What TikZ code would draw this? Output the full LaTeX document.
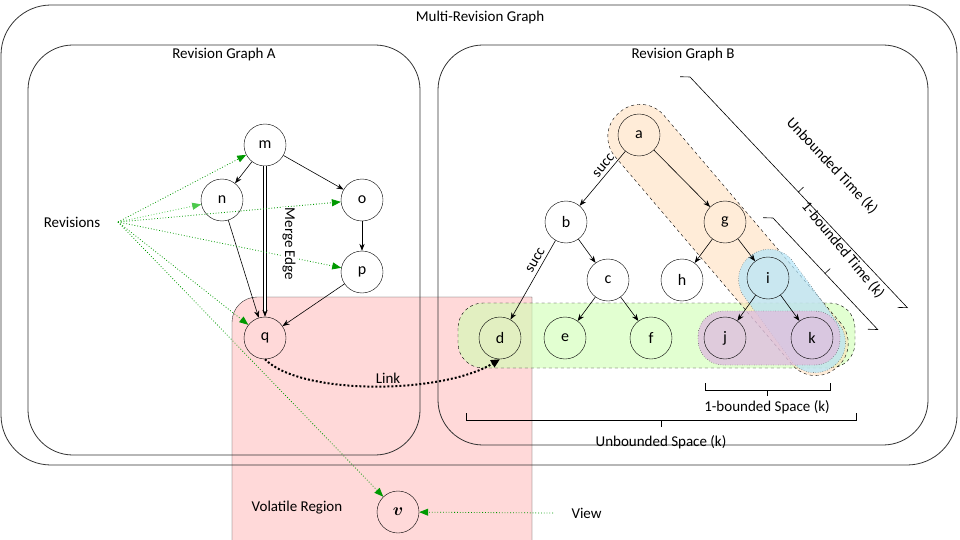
\documentclass[tikz,border=0pt]{standalone}
\usepackage{amsmath}
\usepackage{fontspec}
\setmainfont{Carlito}
\usetikzlibrary{arrows.meta}
\begin{document}
\begin{tikzpicture}[x=1pt,y=-1pt,
  v/.style={circle,draw,minimum size=42pt,inner sep=0pt,font=\fontsize{16}{16}\selectfont},
  e/.style={-{Stealth[length=7pt]},semithick},
  rev/.style={draw=green!60!black,dotted,thick,-{Triangle[length=9pt,width=7pt,fill=green!60!black]}},
  lbl/.style={font=\fontsize{15}{15}\selectfont},
  brk/.style={semithick}]
\useasboundingbox (0,0) rectangle (960,540);
% volatile region (behind)
\fill[red!15] (232,540) -- (232,322) arc[start angle=180,end angle=270,radius=25] -- (532,297) -- (532,540) -- cycle;
% boxes
\draw[thick,black!80,rounded corners=50] (1,5) rectangle (957,465);
\node[lbl] (tmr) at (480,18) {Multi-Revision Graph};
\draw[thick,black!80,rounded corners=45] (28,45) rectangle (420,455);
\node[lbl] (tA) at (224,55) {Revision Graph A};
\draw[thick,black!80,rounded corners=45] (438,45) rectangle (928,445);
\node[lbl] (tB) at (683,55) {Revision Graph B};
\draw[black!80] (232,540) -- (232,322) arc[start angle=180,end angle=270,radius=25] -- (532,297) -- (532,540);
\node[lbl] (tvr) at (297,508) {Volatile Region};
% regions
\draw[dashed,fill=green!50!lime!30,fill opacity=0.6,rounded corners=25] (458,303) rectangle (855,368);
\node[draw,dashed,fill=orange!30,fill opacity=0.5,rounded corners=31,minimum width=335pt,minimum height=64pt,rotate=-49.6] (og) at (728,240) {};
\node[draw,dotted,fill=cyan!30,fill opacity=0.7,rounded corners=29,minimum width=138pt,minimum height=60pt,rotate=-53.7] (bl) at (792,311) {};
\draw[dotted,fill=violet!25,fill opacity=0.8,rounded corners=25] (698,311) rectangle (840,365);
% nodes A
\node[v] (m) at (265,145) {m};
\node[v] (n) at (222,200) {n};
\node[v] (o) at (362,200) {o};
\node[v] (p) at (362,272) {p};
\node[v] (q) at (265,338) {q};
% nodes B
\node[v] (a) at (639,135) {a};
\node[v] (b) at (566,222) {b};
\node[v] (g) at (725,222) {g};
\node[v] (c) at (608,280) {c};
\node[v] (h) at (682,280) {h};
\node[v] (i) at (768,278) {i};
\node[v] (d) at (500,338) {d};
\node[v] (ee) at (565,338) {e};
\node[v] (f) at (651,338) {f};
\node[v] (j) at (725,338) {j};
\node[v] (k) at (812,338) {k};
\node[v] (vv) at (398,512) {$\boldsymbol{v}$};
% edges
\draw[e] (m) -- (n);
\draw[e] (m) -- (o);
\draw[e] (n) -- (q);
\draw[e] (o) -- (p);
\draw[e] (p) -- (q);
\draw[e,double,double distance=2pt,-{Stealth[length=7pt]}] (m) -- (q);
\draw[e] (a) -- node[lbl,above,sloped,pos=0.35] {succ} (b);
\draw[e] (a) -- (g);
\draw[e] (b) -- (c);
\draw[e] (b) -- node[lbl,above,sloped,pos=0.3] {succ} (d);
\draw[e] (c) -- (ee);
\draw[e] (c) -- (f);
\draw[e] (g) -- (h);
\draw[e] (g) -- (i);
\draw[e] (i) -- (j);
\draw[e] (i) -- (k);
% revisions
\node[lbl] (rv) at (72,222) {Revisions};
\coordinate (r0) at (118,222);
\draw[rev] (r0) -- (m);
\draw[rev,draw=green!70!black!70,-{Triangle[length=9pt,width=7pt,fill=green!70!black!70]}] (r0) -- (n);
\draw[rev] (r0) -- (o);
\draw[rev] (r0) -- (p);
\draw[rev] (r0) -- (q);
\draw[rev] (r0) -- (vv);
\node[lbl,fill=white,rotate=-90,inner sep=1pt] (me) at (289,244) {Merge Edge};
\coordinate (vw) at (553,513);
\draw[rev] (vw) -- (vv);
\node[lbl,anchor=west] (tv) at (568,513) {View};
% link
\draw[line width=2pt,dotted,-{Triangle[length=9pt,width=8pt]}] (q.south) .. controls (300,395) and (440,395) .. (d.south);
\node[lbl] (lk) at (388,378) {Link};
% brackets bottom
\draw[brk] (705,383) -- (705,390) -- (830,390) -- (830,383) (767,390) -- (767,396);
\node[lbl] (bs1) at (767,407) {1-bounded Space (k)};
\draw[brk] (466,413) -- (466,420) -- (856,420) -- (856,413) (661,420) -- (661,427);
\node[lbl] (bsu) at (661,442) {Unbounded Space (k)};
% time brackets
\begin{scope}[shift={(690,77)},rotate=-46.7]
\draw[brk] (-7,7) -- (0,0) -- (317,0) -- (310,7);
\draw[brk] (158,0) -- (158,-7);
\end{scope}
\node[lbl,rotate=-46.7] (ut) at (832,166) {Unbounded Time (k)};
\begin{scope}[shift={(773,218)},rotate=-46.8]
\draw[brk] (-7,7) -- (0,0) -- (153,0) -- (146,7);
\draw[brk] (76,0) -- (76,-7);
\end{scope}
\node[lbl,rotate=-50] (bt) at (843,250) {1-bounded Time (k)};
\end{tikzpicture}
\end{document}
